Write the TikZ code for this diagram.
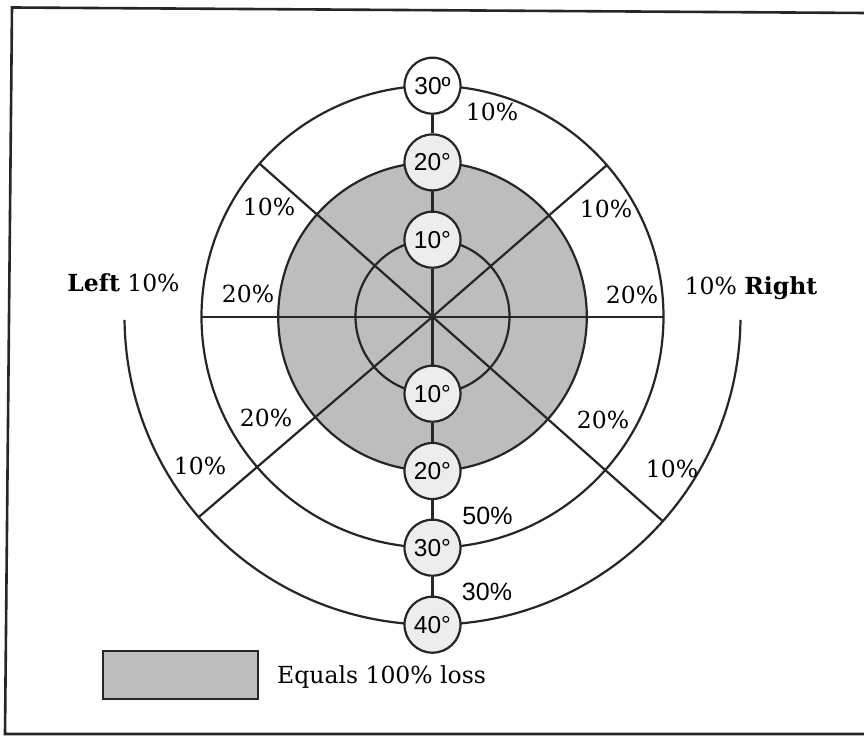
\documentclass[tikz,border=0pt]{standalone}
\usepackage{fontspec}
\setmainfont{DejaVu Serif}
\setsansfont{Liberation Sans}
\usetikzlibrary{calc}
\definecolor{lossgray}{gray}{0.74}
\definecolor{dotfill}{gray}{0.93}
\definecolor{ink}{gray}{0.15}
\begin{document}
\begin{tikzpicture}[x=1pt,y=1pt,
  ln/.style={draw=ink, line width=2.2pt},
  deg/.style={circle, draw=ink, line width=2.2pt, fill=dotfill, minimum size=56pt, inner sep=0pt,
    font=\sffamily\fontsize{24.5}{28}\selectfont},
  pct/.style={font=\rmfamily\fontsize{23.5}{28}\selectfont, inner sep=0pt},
  spct/.style={font=\sffamily\fontsize{25}{28}\selectfont, inner sep=0pt}]
\useasboundingbox (0,0) rectangle (864,736);
\fill[white] (0,0) rectangle (864,736);
% frame (scanned, slightly skewed)
\draw[line width=2.6pt, draw=ink] (864,723) -- (12,728.5) -- (5,2) -- (864,2);
\coordinate (o) at (432.5,419.3);
\def\ra{77}\def\rb{154.3}\def\rc{231}\def\rd{308}
% shaded zone
\fill[lossgray] (o) circle[radius=\rb];
\draw[ln] (o) circle[radius=\ra];
\draw[ln] (o) circle[radius=\rb];
\draw[ln] (o) circle[radius=\rc];
\coordinate (arcL) at ($(o)+(180.6:\rd)$);
\draw[ln] (arcL) arc[start angle=180.6, end angle=359.4, radius=\rd];
% spokes
\coordinate (hl) at ($(o)+(180:\rc)$);
\coordinate (hr) at ($(o)+(0:\rc)$);
\coordinate (dur) at ($(o)+(41:\rc)$);
\coordinate (dul) at ($(o)+(138.5:\rc)$);
\coordinate (dll) at ($(o)+(220.6:\rd)$);
\coordinate (dlr) at ($(o)+(318.4:\rd)$);
\draw[ln] (hl) -- (hr);
\draw[ln] (o) -- (dur);
\draw[ln] (o) -- (dul);
\draw[ln] (o) -- (dll);
\draw[ln] (o) -- (dlr);
% degree circles
\node[deg, fill=white] (t3) at ($(o)+(90:\rc)$) {30º};
\node[deg] (t2) at ($(o)+(90:\rb)$) {20°};
\node[deg] (t1) at ($(o)+(90:\ra)$) {10°};
\node[deg] (b1) at ($(o)+(270:\ra)$) {10°};
\node[deg] (b2) at ($(o)+(270:\rb)$) {20°};
\node[deg] (b3) at ($(o)+(270:\rc)$) {30°};
\node[deg] (b4) at ($(o)+(270:\rd)$) {40°};
\draw[ln] (t3) -- (t2);
\draw[ln] (t2) -- (t1);
\draw[ln] (t1) -- (b1);
\draw[ln] (b1) -- (b2);
\draw[ln] (b2) -- (b3);
\draw[ln] (b3) -- (b4);
% percentage labels
\node[pct] (p1) at (492,624.5) {10\%};
\node[pct] (p2) at (269,529) {10\%};
\node[pct] (p3) at (606,527.5) {10\%};
\node[pct] (p4) at (248,442.5) {20\%};
\node[pct] (p5) at (632,441) {20\%};
\node[pct, anchor=base] (pl) at (123.5,444.3) {\textbf{Left} 10\%};
\node[pct, anchor=base] (pr) at (751,441) {10\% \textbf{Right}};
\node[pct] (p6) at (266,318) {20\%};
\node[pct] (p7) at (200,270.5) {10\%};
\node[pct] (p8) at (603,316) {20\%};
\node[pct] (p9) at (672,267.5) {10\%};
\node[spct] (p10) at (487.5,220.5) {50\%};
\node[spct] (p11) at (487,144.5) {30\%};
% legend
\node[draw=ink, line width=2pt, fill=lossgray, minimum width=155pt, minimum height=48pt, inner sep=0pt] (leg) at (180.5,61) {};
\node[pct, anchor=base west] (legtxt) at (277,53) {Equals 100\% loss};
\end{tikzpicture}
\end{document}
